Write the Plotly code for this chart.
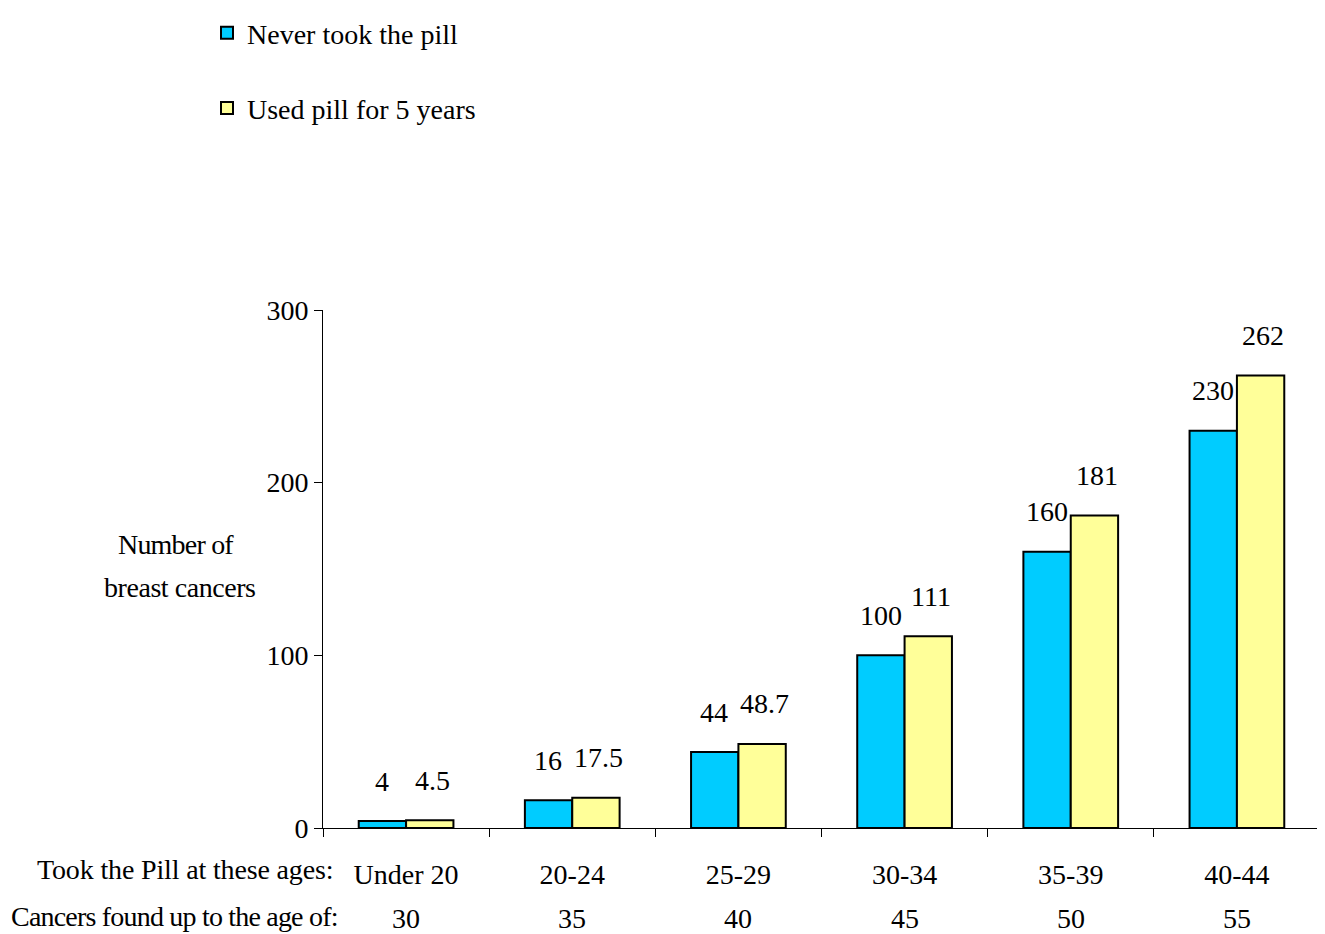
import plotly.graph_objects as go

categories = ["Under 20", "20-24", "25-29", "30-34", "35-39", "40-44"]
found_ages = ["30", "35", "40", "45", "50", "55"]
never = [4, 16, 44, 100, 160, 230]
used = [4.5, 17.5, 48.7, 111, 181, 262]
never_labels = ["4", "16", "44", "100", "160", "230"]
used_labels = ["4.5", "17.5", "48.7", "111", "181", "262"]

FONT = '"Liberation Serif", "Times New Roman", Times, serif'
OFF = 8  # page body margin
W, H = 1325 - OFF, 934 - OFF
L, R, T, B = 323 - OFF, 5, 310 - OFF, 106
pw = W - L - R
ph = H - T - B

def px_x(p):
    return (p - OFF - L) / pw

def px_y(p):
    return (H - B - (p - OFF)) / ph

def cond(t, s):
    return '<span style="letter-spacing:%spx">%s</span>' % (s, t)

fig = go.Figure()
fig.add_trace(go.Bar(name="Never took the pill", x=categories, y=never, legendgroup="a",
                     marker=dict(color="#00CCFF", line=dict(color="black", width=2))))
fig.add_trace(go.Bar(name="Used pill for 5 years", x=categories, y=used, legendgroup="b",
                     marker=dict(color="#FFFF99", line=dict(color="black", width=2))))

f28 = dict(family=FONT, size=28, color="black")
ann = []
for c, v, t in zip(categories, never, never_labels):
    ann.append(dict(x=c, y=v, text=t, showarrow=False, xshift=-24, yshift=40,
                    yanchor="middle", font=f28))
for c, v, t in zip(categories, used, used_labels):
    ann.append(dict(x=c, y=v, text=t, showarrow=False, xshift=26, yshift=40,
                    yanchor="middle", font=f28))
for c, t in zip(categories, found_ages):
    ann.append(dict(x=c, y=px_y(918), yref="paper", text=t, showarrow=False,
                    yanchor="middle", font=f28))
ann.append(dict(x=px_x(335), y=px_y(869), xref="paper", yref="paper",
                text=cond("Took the Pill at these ages:", -0.15), showarrow=False,
                xanchor="right", yanchor="middle", font=f28))
ann.append(dict(x=px_x(340), y=px_y(916), xref="paper", yref="paper",
                text=cond("Cancers found up to the age of:", -0.8), showarrow=False,
                xanchor="right", yanchor="middle", font=f28))
ann.append(dict(x=px_x(176), y=px_y(544), xref="paper", yref="paper",
                text=cond("Number of", -0.8), showarrow=False,
                xanchor="center", yanchor="middle", font=f28))
ann.append(dict(x=px_x(180), y=px_y(587), xref="paper", yref="paper",
                text=cond("breast cancers", -0.45), showarrow=False,
                xanchor="center", yanchor="middle", font=f28))

fig.update_layout(
    width=W, height=H,
    margin=dict(l=L, r=R, t=T, b=B, autoexpand=False),
    paper_bgcolor="white", plot_bgcolor="white",
    barmode="group", bargap=0.43, bargroupgap=0,
    font=f28,
    annotations=ann,
    legend=dict(x=px_x(207), y=px_y(8), xanchor="left", yanchor="top",
                font=f28, tracegroupgap=36, bgcolor="rgba(0,0,0,0)", traceorder="grouped"),
    xaxis=dict(type="category", tickson="boundaries", ticks="outside", ticklen=8,
               tickcolor="black", showline=True, linecolor="black", linewidth=1,
               showgrid=False, tickfont=f28, ticklabelstandoff=21),
    yaxis=dict(range=[0, 300], tickvals=[0, 100, 200, 300], ticks="outside", ticklen=8,
               tickcolor="black", showline=True, linecolor="black", linewidth=1,
               showgrid=False, zeroline=False, tickfont=f28),
)
fig.write_html("out.html")
